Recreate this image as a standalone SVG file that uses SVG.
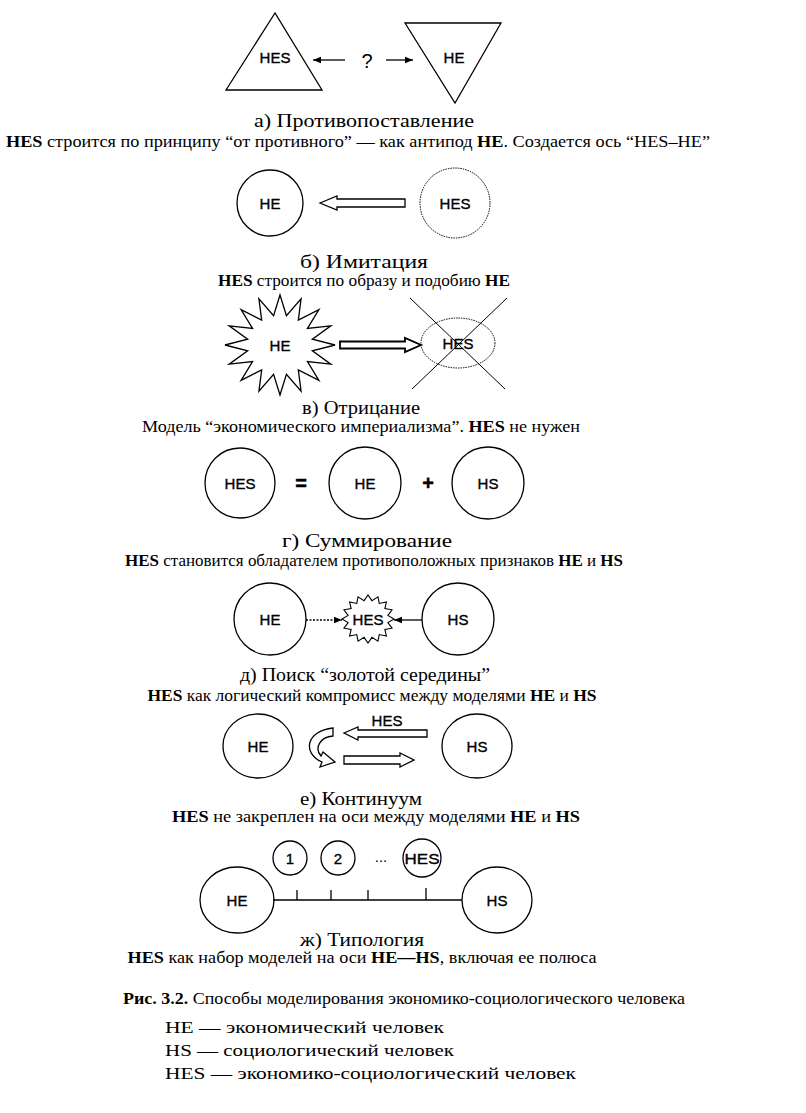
<svg xmlns="http://www.w3.org/2000/svg" width="806" height="1113" viewBox="0 0 806 1113">
<style>
.sh{fill:#fff;stroke:#000;stroke-width:1.3}
.dot{fill:#fff;stroke:#000;stroke-width:1;stroke-dasharray:1.5 1}
.ln{fill:none;stroke:#000;stroke-width:1.3}
.lb{font-family:"Liberation Sans",Arial,sans-serif;font-size:15px;text-anchor:middle;fill:#000;stroke:#000;stroke-width:0.35}
.cap{font-family:"Liberation Serif","Times New Roman",serif;font-size:18px;text-anchor:middle;fill:#000}
.sub{font-family:"Liberation Serif","Times New Roman",serif;font-size:16px;text-anchor:middle;fill:#000}
.leg{font-family:"Liberation Serif","Times New Roman",serif;font-size:17px;fill:#000}
</style>
<defs>
<marker id="ah" viewBox="0 0 10 10" refX="10" refY="5" markerWidth="8" markerHeight="8" markerUnits="userSpaceOnUse" orient="auto"><path d="M0,1 L10,5 L0,9 Z" fill="#000"/></marker>
</defs>

<!-- a -->
<g id="a-hes"><polygon class="sh" points="275,13 226,90 322,90"/><text class="lb" x="275" y="63">HES</text></g>
<g id="a-he"><polygon class="sh" points="405,23 501,23 455,103"/><text class="lb" x="454" y="63">HE</text></g>
<text class="lb" x="367" y="68" style="font-size:20px;stroke-width:0">?</text>

<!-- b -->
<g id="b-he"><circle class="sh" cx="270" cy="203" r="33"/><text class="lb" x="270" y="209">HE</text></g>
<g id="b-hes"><circle class="dot" cx="455" cy="203" r="35"/><text class="lb" x="455" y="209">HES</text></g>

<!-- c -->
<g id="c-he"><polygon class="sh" points="335,345 312.34,350.85 330.82,364.15 307.45,361.65 318.89,380.35 298.32,369.95 301.07,391.2 286.44,374.4 280,395 273.57,374.4 258.93,391.2 261.69,369.95 241.11,380.35 252.56,361.65 229.18,364.15 247.66,350.85 225,345 247.66,339.15 229.18,325.85 252.56,328.35 241.11,309.65 261.69,320.05 258.93,298.8 273.57,315.6 280,295 286.44,315.6 301.07,298.8 298.32,320.05 318.89,309.65 307.45,328.35 330.82,325.85 312.34,339.15"/><text class="lb" x="280" y="351">HE</text></g>
<g id="c-hes"><ellipse class="dot" cx="458" cy="343" rx="37" ry="25"/><text class="lb" x="458" y="349">HES</text>
<line class="ln" x1="410" y1="298" x2="505" y2="389" style="stroke-width:1"/><line class="ln" x1="507" y1="298" x2="412" y2="389" style="stroke-width:1"/></g>

<!-- d -->
<g id="d-hes"><circle class="sh" cx="240" cy="483" r="35"/><text class="lb" x="240" y="489">HES</text></g>
<g id="d-he"><circle class="sh" cx="365" cy="483" r="36"/><text class="lb" x="365" y="489">HE</text></g>
<g id="d-hs"><circle class="sh" cx="488" cy="483" r="36"/><text class="lb" x="488" y="489">HS</text></g>
<text class="lb" x="301" y="490" style="font-size:20px;font-weight:bold">=</text>
<text class="lb" x="428" y="490" style="font-size:20px;font-weight:bold">+</text>

<!-- e -->
<g id="e-he"><circle class="sh" cx="270" cy="619" r="36"/><text class="lb" x="270" y="625">HE</text></g>
<g id="e-hs"><circle class="sh" cx="458" cy="619" r="36"/><text class="lb" x="458" y="625">HS</text></g>
<g id="e-hes"><polygon class="sh" style="stroke-width:1.1" points="394,619 387.86,622.65 392.02,628.19 384.87,629.39 386.38,635.97 379.26,634.58 377.96,641.18 371.95,637.34 368,643 364.05,637.34 358.04,641.18 356.74,634.58 349.62,635.97 351.13,629.39 343.98,628.19 348.14,622.65 342,619 348.14,615.35 343.98,609.81 351.13,608.61 349.62,602.03 356.74,603.42 358.04,596.82 364.05,600.66 368,595 371.95,600.66 377.96,596.82 379.26,603.42 386.38,602.03 384.87,608.61 392.02,609.81 387.86,615.35"/><text class="lb" x="368" y="625">HES</text></g>

<!-- f -->
<g id="f-he"><ellipse class="sh" cx="258" cy="746" rx="35" ry="32"/><text class="lb" x="258" y="752">HE</text></g>
<g id="f-hs"><ellipse class="sh" cx="477" cy="746" rx="35" ry="32"/><text class="lb" x="477" y="752">HS</text></g>
<text class="lb" x="387" y="726">HES</text>

<!-- g -->
<g id="g-he"><ellipse class="sh" cx="237" cy="900" rx="37" ry="33"/><text class="lb" x="237" y="906">HE</text></g>
<g id="g-hs"><ellipse class="sh" cx="497" cy="900" rx="35" ry="33"/><text class="lb" x="497" y="906">HS</text></g>
<g id="g-1"><circle class="sh" cx="290" cy="858" r="17"/><text class="lb" x="290" y="864">1</text></g>
<g id="g-2"><circle class="sh" cx="338" cy="858" r="17"/><text class="lb" x="338" y="864">2</text></g>
<text class="lb" x="381" y="862" style="stroke-width:0">...</text>
<g id="g-hes"><circle class="sh" cx="422" cy="858" r="19"/><text class="lb" x="422" y="864" textLength="35" lengthAdjust="spacingAndGlyphs">HES</text></g>

<g id="connectors">
<line class="ln" x1="345" y1="60" x2="313" y2="60" marker-end="url(#ah)"/>
<line class="ln" x1="386" y1="60" x2="413" y2="60" marker-end="url(#ah)"/>
<polygon class="sh" points="320,203 337,196 337,199 405,199 405,207 337,207 337,210"/>
<polygon class="sh" points="340,341.5 405,341.5 405,338 421,345 405,352 405,348.5 340,348.5" style="stroke-width:1.8"/>
<line class="ln" x1="306" y1="620" x2="342" y2="620" marker-end="url(#ah)" style="stroke-dasharray:2 1.5"/>
<line class="ln" x1="422" y1="620" x2="394" y2="620" marker-end="url(#ah)"/>
<polygon class="sh" points="344,733 358,727 358,730 427,730 427,737 358,737 358,740"/>
<polygon class="sh" points="344,756 400,756 400,753 414,760 400,767 400,764 344,764"/>
<path class="sh" d="M333,728 L333,736 C320,737 314,748 321,756 L323,752 L335,762 L320,767 L322,762 C302,753 306,731 333,728 Z"/>
<line class="ln" x1="273" y1="900" x2="462" y2="900"/>
<line class="ln" x1="297" y1="890" x2="297" y2="900"/>
<line class="ln" x1="331" y1="890" x2="331" y2="900"/>
<line class="ln" x1="368" y1="890" x2="368" y2="900"/>
<line class="ln" x1="426" y1="888" x2="426" y2="900"/>
</g>

<!-- captions -->
<text class="cap" x="364" y="127" textLength="220" lengthAdjust="spacingAndGlyphs">а) Противопоставление</text>
<text class="sub" x="358" y="147" textLength="704" lengthAdjust="spacingAndGlyphs"><tspan font-weight="bold">HES</tspan> строится по принципу “от противного” — как антипод <tspan font-weight="bold">HE</tspan>. Создается ось “HES–HE”</text>
<text class="cap" x="364" y="268" textLength="128" lengthAdjust="spacingAndGlyphs">б)  Имитация</text>
<text class="sub" x="364" y="286" textLength="292" lengthAdjust="spacingAndGlyphs"><tspan font-weight="bold">HES</tspan> строится по образу и подобию <tspan font-weight="bold">HE</tspan></text>
<text class="cap" x="361" y="414" textLength="118" lengthAdjust="spacingAndGlyphs">в)  Отрицание</text>
<text class="sub" x="361" y="432" textLength="438" lengthAdjust="spacingAndGlyphs">Модель “экономического империализма”. <tspan font-weight="bold">HES</tspan> не нужен</text>
<text class="cap" x="367" y="547" textLength="170" lengthAdjust="spacingAndGlyphs">г)  Суммирование</text>
<text class="sub" x="374" y="566" textLength="498" lengthAdjust="spacingAndGlyphs"><tspan font-weight="bold">HES</tspan> становится обладателем противоположных признаков <tspan font-weight="bold">HE</tspan> и <tspan font-weight="bold">HS</tspan></text>
<text class="cap" x="365" y="681" textLength="250" lengthAdjust="spacingAndGlyphs">д) Поиск “золотой середины”</text>
<text class="sub" x="372" y="701" textLength="449" lengthAdjust="spacingAndGlyphs"><tspan font-weight="bold">HES</tspan> как логический компромисс между моделями <tspan font-weight="bold">HE</tspan> и <tspan font-weight="bold">HS</tspan></text>
<text class="cap" x="361" y="805" textLength="122" lengthAdjust="spacingAndGlyphs">е)  Континуум</text>
<text class="sub" x="376" y="822" textLength="408" lengthAdjust="spacingAndGlyphs"><tspan font-weight="bold">HES</tspan> не закреплен на оси между моделями <tspan font-weight="bold">HE</tspan> и <tspan font-weight="bold">HS</tspan></text>
<text class="cap" x="362" y="946" textLength="124" lengthAdjust="spacingAndGlyphs">ж)  Типология</text>
<text class="sub" x="362" y="963" textLength="469" lengthAdjust="spacingAndGlyphs"><tspan font-weight="bold">HES</tspan> как набор моделей на оси <tspan font-weight="bold">HE—HS</tspan>, включая ее полюса</text>
<text class="leg" x="123" y="1004" textLength="562" lengthAdjust="spacingAndGlyphs"><tspan font-weight="bold">Рис. 3.2.</tspan> Способы моделирования экономико-социологического человека</text>
<text class="leg" x="165" y="1033" textLength="279" lengthAdjust="spacingAndGlyphs">HE — экономический человек</text>
<text class="leg" x="165" y="1056" textLength="289" lengthAdjust="spacingAndGlyphs">HS — социологический человек</text>
<text class="leg" x="165" y="1079" textLength="411" lengthAdjust="spacingAndGlyphs">HES — экономико-социологический человек</text>
</svg>
